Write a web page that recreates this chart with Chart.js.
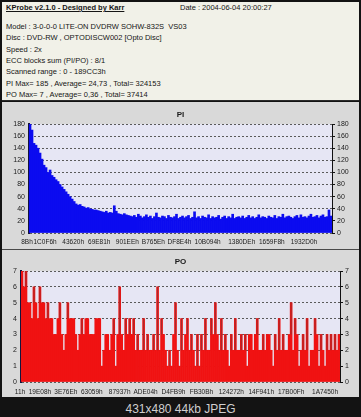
<!DOCTYPE html>
<html>
<head>
<meta charset="utf-8">
<script src="https://cdn.jsdelivr.net/npm/chart.js@4.4.1/dist/chart.umd.min.js"></script>
<style>
html, body { margin: 0; padding: 0; background: #111; }
#frame { position: relative; width: 361px; height: 417px; background: #131313; overflow: hidden; font-family: "Liberation Sans", Arial, sans-serif; }
#info { position: absolute; left: 2px; top: 2px; width: 357px; height: 98px; background: #f1f1e8; border-bottom: 1px solid #2a2a2a; }
.ln { position: absolute; left: 4px; font-size: 7.5px; line-height: 9px; color: #151515; white-space: nowrap; }
.hd { font-weight: bold; text-decoration: underline; }
canvas { position: absolute; left: 2px; background: #d9d9d9; }
#sep { position: absolute; left: 2px; top: 249px; width: 357px; height: 1px; background: #4a4a4a; }
#foot { position: absolute; left: 0; top: 401px; width: 361px; text-align: center; color: #cfcfcf; font-size: 12px; line-height: 16px; font-family: "Liberation Sans", Arial, sans-serif; }
</style>
</head>
<body>
<div id="frame">
  <div id="info">
    <div class="ln hd" style="top:1px">KProbe v2.1.0 - Designed by Karr</div>
    <div class="ln" style="top:1px;left:178px">Date : 2004-06-04 20:00:27</div>
    <div class="ln" style="top:20px">Model : 3-0-0-0 LITE-ON DVDRW SOHW-832S&nbsp; VS03</div>
    <div class="ln" style="top:31px">Disc : DVD-RW , OPTODISCW002 [Opto Disc]</div>
    <div class="ln" style="top:43px">Speed : 2x</div>
    <div class="ln" style="top:54px">ECC blocks sum (PI/PO) : 8/1</div>
    <div class="ln" style="top:65px">Scanned range : 0 - 189CC3h</div>
    <div class="ln" style="top:77px">PI Max= 185 , Average= 24,73 , Total= 324153</div>
    <div class="ln" style="top:88px">PO Max= 7 , Average= 0,36 , Total= 37414</div>
  </div>
  <canvas id="piChart" width="357" height="147" style="top:102px"></canvas>
  <div id="sep"></div>
  <canvas id="poChart" width="357" height="147" style="top:250px"></canvas>
  <div id="foot">431x480 44kb JPEG</div>
</div>
<script>
const piTickLabels = ['8Bh', '1C0F6h', '43620h', '69E81h', '901EEh', 'B765Eh', 'DF8E4h', '10B094h', '1380DEh', '1659F8h', '1932D0h'];
const piTickIndex = [0, 9, 23, 36, 50, 63, 76, 90, 107, 122, 138];
const piValues = [
    183, 170, 148, 145, 140, 132, 122, 112, 108, 100,
    104, 95, 92, 88, 85, 80, 76, 72, 68, 64,
    60, 56, 52, 48, 46, 47, 44, 43, 41, 42,
    40, 39, 38, 38, 37, 36, 35, 34, 36, 33,
    34, 33, 45, 36, 32, 31, 30, 32, 30, 29,
    28,
    27, 29, 26, 31, 28, 25, 27, 30, 26, 28,
    24, 27, 33, 26, 25, 28, 27, 24, 29, 26,
    25, 27, 31, 24, 26, 28, 25, 27, 29, 24,
    26, 35, 25, 27, 24, 28, 26, 25, 30, 24,
    27, 25, 26, 29, 23, 26, 28, 24, 27, 25,
    31, 24, 26, 27, 25, 28, 24, 26, 29, 25,
    27, 24, 26, 30, 25, 27, 26, 24, 28, 26,
    25, 29, 24, 27, 26, 31, 25, 27, 28, 26,
    24, 27, 29, 25, 30, 26, 27, 25, 28, 31,
    26, 27, 29, 25, 28, 30, 26, 27, 38, 28
];
const piYMax = 180;
const piYStep = 20;

const poTickLabels = ['11h', '19E08h', '3E76Eh', '63059h', '87937h', 'ADE04h', 'D4FB9h', 'FB30Bh', '124272h', '14F941h', '17B00Fh', '1A7450h'];
const poTickIndex = [0, 10, 23, 36, 50, 63, 77, 91, 106, 121, 136, 153];
const poValues = [
    7, 6, 7, 5, 5, 4, 6, 5, 4, 6,
    5, 5, 4, 5, 4, 4, 3, 3, 4, 5,
    3, 2, 3, 5, 4, 4, 4, 3, 2, 3,
    4, 3, 4, 4, 3, 3, 3, 4, 4, 4,
    1, 2, 3, 3, 2, 3, 4, 1, 3, 6,
    3, 2, 4, 3, 4, 3, 4, 2, 3, 2,
    2, 4, 2, 3, 2, 2, 3, 2, 6, 2,
    4, 3, 2, 1, 2, 1, 3, 5, 2, 1,
    4, 2, 3, 4, 2, 3, 2, 1, 3, 1,
    3, 2, 4, 2, 2, 4, 3, 5, 3, 2,
    4, 2, 3, 2, 1, 3, 2, 4, 2, 2,
    3, 2, 3, 1, 3, 3, 2, 3, 4, 2,
    2, 3, 2, 3, 3, 2, 1, 3, 2, 4,
    2, 3, 2, 2, 3, 5, 2, 4, 3, 1,
    2, 3, 2, 4, 1, 2, 2, 4, 3, 1,
    3, 2, 1, 3, 2, 3, 2, 3, 2, 3
];
const poYMax = 7;
const poYStep = 1;

// Fond lavande de la zone de tracé
const plotBgPlugin = {
    id: 'plotBg',
    beforeDraw(chart, args, opts) {
        const ctx = chart.ctx;
        const a = chart.chartArea;
        ctx.save();
        ctx.fillStyle = opts.color || '#e6e6f4';
        ctx.fillRect(a.left, a.top, a.right - a.left, a.bottom - a.top);
        ctx.restore();
    }
};

function buildLabels(count, tickIndex, tickLabels) {
    const labels = new Array(count).fill('');
    tickIndex.forEach((idx, k) => { labels[idx] = tickLabels[k]; });
    return labels;
}

const yFont = { family: '"Liberation Sans", Arial, sans-serif', size: 7 };
const xFont = { family: '"Liberation Sans", Arial, sans-serif', size: 6.5 };

function makeOptions(title, yMax, yStep, sideWidth, xHeight, xPad, xShift, titlePad) {
    return {
        responsive: false,
        animation: false,
        events: [],
        layout: { padding: 0 },
        plugins: {
            legend: { display: false },
            tooltip: { enabled: false },
            title: {
                display: true,
                text: title,
                color: '#1a1a1a',
                font: { family: '"Liberation Sans", Arial, sans-serif', size: 8, weight: 'bold', lineHeight: 1 },
                padding: titlePad
            },
            plotBg: { color: '#e6e6f4' }
        },
        scales: {
            x: {
                grid: { display: false, drawTicks: false },
                border: { display: false },
                ticks: {
                    autoSkip: false, maxRotation: 0, minRotation: 0,
                    padding: xPad, labelOffset: xShift, color: '#1a1a1a', font: xFont
                },
                afterFit(scale) { scale.height = xHeight; }
            },
            y: {
                position: 'left',
                min: 0, max: yMax,
                grid: { color: '#5a5a5a', lineWidth: 1, drawTicks: false },
                border: { display: true, color: '#14143c', width: 2, dash: [2, 2] },
                ticks: { stepSize: yStep, padding: 4, color: '#1a1a1a', font: yFont },
                afterFit(scale) { scale.width = sideWidth; }
            },
            y2: {
                position: 'right',
                min: 0, max: yMax,
                grid: { drawOnChartArea: false, drawTicks: true, tickLength: 3, color: '#111' },
                border: { display: true, color: '#111', width: 1 },
                ticks: { stepSize: yStep, padding: 2, color: '#1a1a1a', font: yFont },
                afterFit(scale) { scale.width = sideWidth; }
            }
        }
    };
}

// Graphique PI
const piCtx = document.getElementById('piChart').getContext('2d');
const piChart = new Chart(piCtx, {
    type: 'bar',
    data: {
        labels: buildLabels(piValues.length, piTickIndex, piTickLabels),
        datasets: [{
            data: piValues,
            backgroundColor: '#0b0bf0',
            borderWidth: 0,
            barPercentage: 1,
            categoryPercentage: 1
        }]
    },
    options: makeOptions('PI', piYMax, piYStep, 27, 16, 5, -3, { top: 9, bottom: 5 }),
    plugins: [plotBgPlugin]
});

// Graphique PO : remplissage rouge + pics isolés plus sombres
const poPeaks = poValues.map((v, i) => {
    const prev = i > 0 ? poValues[i - 1] : v;
    const next = i < poValues.length - 1 ? poValues[i + 1] : v;
    const floor = Math.max(prev, next);
    return v > floor ? [floor, v] : null;
});

const poCtx = document.getElementById('poChart').getContext('2d');
const poChart = new Chart(poCtx, {
    type: 'bar',
    data: {
        labels: buildLabels(poValues.length, poTickIndex, poTickLabels),
        datasets: [{
            data: poValues,
            backgroundColor: '#f01212',
            borderWidth: 0,
            barPercentage: 1,
            categoryPercentage: 1,
            grouped: false,
            order: 2
        }, {
            data: poPeaks,
            backgroundColor: '#a82a2a',
            borderWidth: 0,
            barPercentage: 0.55,
            categoryPercentage: 1,
            grouped: false,
            order: 1
        }]
    },
    options: makeOptions('PO', poYMax, poYStep, 19, 15, 6, -2, { top: 8, bottom: 5 }),
    plugins: [plotBgPlugin]
});
</script>
</body>
</html>
